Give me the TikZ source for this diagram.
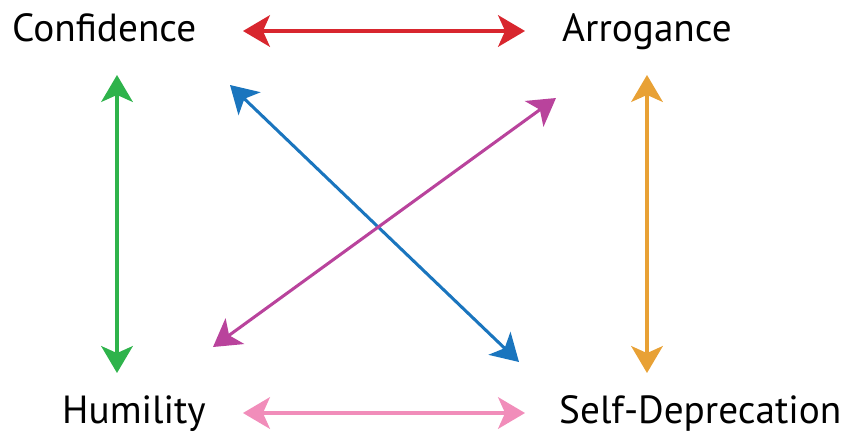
\documentclass[tikz,border=0pt]{standalone}
\usepackage{fontspec}
\setmainfont{PT Sans}
\definecolor{linkred}{HTML}{D8262E}
\definecolor{linkgreen}{HTML}{2EB34B}
\definecolor{linkorange}{HTML}{E8A135}
\definecolor{linkpink}{HTML}{F18DBA}
\definecolor{linkblue}{HTML}{1A75BE}
\definecolor{linkmagenta}{HTML}{B9439C}
\usetikzlibrary{arrows.meta}

\begin{document}
\begin{tikzpicture}[x=0.03cm,y=-0.03cm,
    trait/.style={font=\fontsize{33.5}{40}\selectfont,inner sep=0pt,anchor=base west},
    link/.style={line width=2.6pt,{Stealth[length=23pt,width=27pt,inset=6pt]}-{Stealth[length=23pt,width=27pt,inset=6pt]}}]
    \useasboundingbox (0,0) rectangle (843,434);
    % traits
    \node[trait] (conf) at (12,41) {Confidence};
    \node[trait] (arro) at (562,41) {Arrogance};
    \node[trait] (humi) at (62,423) {Humility};
    \node[trait] (self) at (559,423) {Self-Deprecation};
    % arrow ends
    \coordinate (confR) at (243,31);
    \coordinate (arroL) at (525,31);
    \coordinate (confB) at (117,75);
    \coordinate (humiT) at (117,373);
    \coordinate (arroB) at (647,75);
    \coordinate (selfT) at (647,373);
    \coordinate (humiR) at (243,413);
    \coordinate (selfL) at (525,413);
    \coordinate (confD) at (230,85);
    \coordinate (selfU) at (519,362);
    \coordinate (arroD) at (556,98);
    \coordinate (humiU) at (213,347);
    % links
    \draw[link,linkred] (confR) -- (arroL);
    \draw[link,linkgreen] (confB) -- (humiT);
    \draw[link,linkorange] (arroB) -- (selfT);
    \draw[link,linkpink] (humiR) -- (selfL);
    \draw[link,linkblue] (confD) -- (selfU);
    \draw[link,linkmagenta] (arroD) -- (humiU);
\end{tikzpicture}
\end{document}
